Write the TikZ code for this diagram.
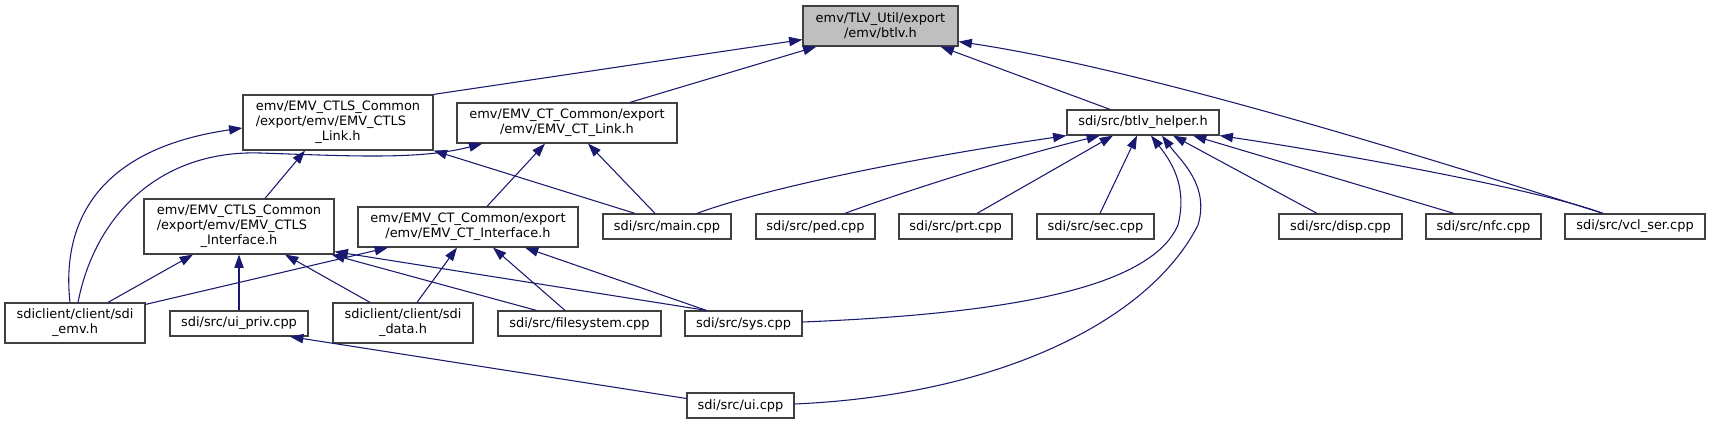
\documentclass[tikz,border=0pt]{standalone}
\usepackage{fontspec}
\setmainfont{DejaVu Sans}
\usetikzlibrary{arrows.meta,calc}
\definecolor{edgecol}{HTML}{191970}
\definecolor{boxline}{HTML}{404040}
\definecolor{rootfill}{HTML}{BFBFBF}
\begin{document}
\begin{tikzpicture}[x=0.75pt,y=-0.75pt,
  font=\fontsize{9.7}{11.25}\selectfont,
  box/.style={draw=boxline,line width=0.9pt,fill=white,inner sep=0pt,align=center},
  sz/.style 2 args={minimum width={#1*0.75pt},minimum height={#2*0.75pt}},
  edge/.style={draw=edgecol,line width=0.8pt,-{Triangle[length=10pt,width=7pt]}}]
\useasboundingbox (0,0) rectangle (1711,424);

% nodes
\node[box,fill=rootfill,sz={155}{40}] (btlv) at (880.5,26) {emv/TLV\_Util/export\\/emv/btlv.h};
\node[box,sz={190}{55}] (ctlslink) at (338,122.5) {\begin{tabular}{@{}l@{}}emv/EMV\_CTLS\_Common\\/export/emv/EMV\_CTLS\\\multicolumn{1}{@{}c@{}}{\_Link.h}\end{tabular}};
\node[box,sz={220}{40}] (ctlink) at (567,123) {emv/EMV\_CT\_Common/export\\/emv/EMV\_CT\_Link.h};
\node[box,sz={152}{25}] (helper) at (1143,122.5) {sdi/src/btlv\_helper.h};
\node[box,sz={190}{55}] (ctlsif) at (239,226.5) {\begin{tabular}{@{}l@{}}emv/EMV\_CTLS\_Common\\/export/emv/EMV\_CTLS\\\multicolumn{1}{@{}c@{}}{\_Interface.h}\end{tabular}};
\node[box,sz={220}{40}] (ctif) at (468,227) {emv/EMV\_CT\_Common/export\\/emv/EMV\_CT\_Interface.h};
\node[box,sz={128}{25}] (main) at (667,226.5) {sdi/src/main.cpp};
\node[box,sz={119}{25}] (ped) at (815.5,226.5) {sdi/src/ped.cpp};
\node[box,sz={113}{25}] (prt) at (955.5,226.5) {sdi/src/prt.cpp};
\node[box,sz={117}{25}] (sec) at (1095.5,226.5) {sdi/src/sec.cpp};
\node[box,sz={123}{25}] (disp) at (1340.5,226.5) {sdi/src/disp.cpp};
\node[box,sz={115}{25}] (nfc) at (1483.5,226.5) {sdi/src/nfc.cpp};
\node[box,sz={140}{25}] (vcl) at (1635,226.5) {sdi/src/vcl\_ser.cpp};
\node[box,sz={140}{40}] (sdiemv) at (75,323) {sdiclient/client/sdi\\\_emv.h};
\node[box,sz={138}{25}] (uipriv) at (239,323.5) {sdi/src/ui\_priv.cpp};
\node[box,sz={140}{40}] (sdidata) at (403,323) {sdiclient/client/sdi\\\_data.h};
\node[box,sz={163}{25}] (fs) at (579.5,323.5) {sdi/src/filesystem.cpp};
\node[box,sz={117}{25}] (sys) at (743.5,323.5) {sdi/src/sys.cpp};
\node[box,sz={107}{25}] (ui) at (740.5,405.5) {sdi/src/ui.cpp};

% edges to btlv.h
\draw[edge] (ctlslink.north east) -- ($(btlv.south west)+(0,-7)$);
\draw[edge] ($(ctlink.north)+(63,0)$) -- ($(btlv.south west)+(14,0)$);
\draw[edge] ($(helper.north)+(-33,0)$) -- ($(btlv.south east)+(-18,0)$);
\draw[edge] ($(vcl.north)+(-32,0)$) .. controls (1450,165) and (1150,70) .. ($(btlv.south east)+(0,-5)$);

% edges to EMV_CTLS_Link.h
\draw[edge] ($(sdiemv.north)+(-5,0)$) .. controls (62,230) and (90,150) .. ($(ctlslink.west)+(0,5.5)$);
\draw[edge] ($(ctlsif.north)+(26,0)$) -- ($(ctlslink.south)+(-33,0)$);
\draw[edge] ($(main.north)+(-32,0)$) -- (ctlslink.south east);

% edges to EMV_CT_Link.h
\draw[edge] ($(sdiemv.north)+(3,0)$) .. controls (95,215) and (160,150) .. (260,153) .. controls (350,156) and (420,160) .. ($(ctlink.south west)+(26,0)$);
\draw[edge] ($(ctif.north)+(19,0)$) -- ($(ctlink.south)+(-22,0)$);
\draw[edge] ($(main.north)+(-12,0)$) -- ($(ctlink.south)+(21,0)$);

% edges to btlv_helper.h
\draw[edge] ($(main.north)+(30,0)$) .. controls (760,190) and (900,160) .. (helper.south west);
\draw[edge] ($(ped.north)+(29.5,0)$) .. controls (880,200) and (1000,160) .. ($(helper.south)+(-43,0)$);
\draw[edge] ($(prt.north)+(21.5,0)$) -- ($(helper.south)+(-30,0)$);
\draw[edge] ($(sec.north)+(4.5,0)$) -- ($(helper.south)+(-6,0)$);
\draw[edge] ($(sys.east)+(0,-1.5)$) .. controls (1000,314) and (1150,290) .. (1178,225) .. controls (1188,185) and (1170,160) .. ($(helper.south)+(8,0)$);
\draw[edge] ($(ui.east)+(0,-1.5)$) .. controls (1000,395) and (1150,320) .. (1198,225) .. controls (1210,185) and (1180,160) .. ($(helper.south)+(19,0)$);
\draw[edge] ($(disp.north)+(-23.5,0)$) -- ($(helper.south)+(30,0)$);
\draw[edge] ($(nfc.north)+(-29.5,0)$) -- ($(helper.south)+(50,0)$);
\draw[edge] ($(vcl.north)+(-32,0)$) .. controls (1540,190) and (1350,155) .. (helper.south east);

% edges to EMV_CTLS_Interface.h
\draw[edge] ($(sdiemv.north)+(33,0)$) -- ($(ctlsif.south)+(-46,0)$);
\draw[edge] (uipriv.north) -- (ctlsif.south);
\draw[edge] ($(sdidata.north)+(-33,0)$) -- ($(ctlsif.south)+(46,0)$);
\draw[edge] ($(fs.north west)+(39,0)$) -- ($(ctlsif.south east)+(-3,0)$);
\draw[edge] ($(sys.north west)+(22,0)$) -- ($(ctlsif.south east)+(0,-3)$);

% edges to EMV_CT_Interface.h
\draw[edge] ($(sdiemv.north east)+(0,2)$) -- ($(ctif.south)+(-80,0)$);
\draw[edge] ($(sdidata.north)+(14,0)$) -- ($(ctif.south)+(-11,0)$);
\draw[edge] ($(fs.north)+(-14.5,0)$) -- ($(ctif.south)+(25,0)$);
\draw[edge] ($(sys.north west)+(22,0)$) -- ($(ctif.south)+(57,0)$);

% edge to ui_priv.cpp
\draw[edge] ($(ui.west)+(0,-7)$) -- ($(uipriv.south)+(51,0)$);
\end{tikzpicture}
\end{document}
